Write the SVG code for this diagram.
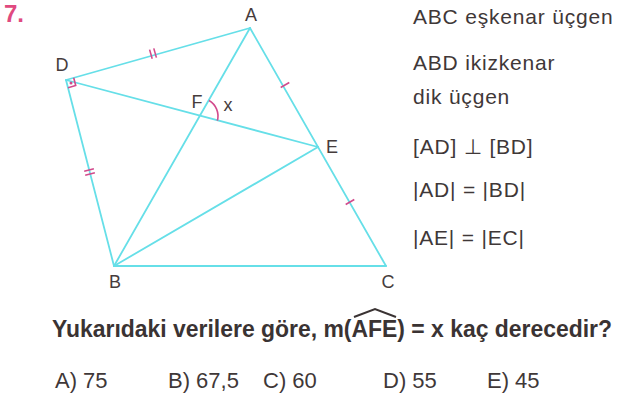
<svg xmlns="http://www.w3.org/2000/svg" width="619" height="398" viewBox="0 0 619 398">
<style>
.ln{stroke:#66dfe8;stroke-width:1.8;fill:none;stroke-linecap:round}
.tk{stroke:#d24a8c;stroke-width:1.6;fill:none}
.lbl{font-family:"Liberation Sans",Arial,sans-serif;font-size:18px;fill:#463c3c}
.side{font-family:"Liberation Sans","DejaVu Sans",Arial,sans-serif;font-size:21px;fill:#3f3838;letter-spacing:0.8px}
.q{font-family:"Liberation Sans",Arial,sans-serif;font-size:23px;font-weight:bold;fill:#3a3333}
.ans{font-family:"Liberation Sans",Arial,sans-serif;font-size:22px;fill:#3f3838}
</style>
<rect width="619" height="398" fill="#ffffff"/>
<text x="4" y="22" font-family="Liberation Sans,Arial,sans-serif" font-size="24" font-weight="bold" fill="#e04a80">7.</text>
<g id="connectors">
<line class="ln" x1="66" y1="80" x2="250" y2="28" stroke-width="1.3"/>
<line class="ln" x1="250" y1="28" x2="386" y2="266"/>
<line class="ln" x1="250" y1="28" x2="114" y2="266"/>
<line class="ln" x1="114" y1="266" x2="386" y2="266"/>
<line class="ln" x1="66" y1="80" x2="114" y2="266"/>
<line class="ln" x1="66" y1="80" x2="318" y2="147" stroke-width="2.2"/>
<line class="ln" x1="114" y1="266" x2="318" y2="147"/>
</g>
<g id="marks">
<path class="tk" d="M73.7,77.8 L75.7,85.5 L68.0,87.7"/>
<circle cx="71" cy="83" r="1.5" fill="#d24a8c"/>
<line class="tk" x1="149.6" y1="49.6" x2="152.2" y2="58.8"/>
<line class="tk" x1="153.8" y1="48.4" x2="156.4" y2="57.6"/>
<line class="tk" x1="84.2" y1="171.3" x2="93.9" y2="168.8"/>
<line class="tk" x1="85.2" y1="175.2" x2="94.9" y2="172.7"/>
<line class="tk" x1="280.7" y1="87.5" x2="289.3" y2="82.5"/>
<line class="tk" x1="345.7" y1="204.5" x2="354.3" y2="199.5"/>
<path class="tk" d="M209,100.5 A18,18 0 0 1 217.4,120.6"/>
</g>
<g id="nodeA"><text class="lbl" x="251" y="21" text-anchor="middle">A</text></g>
<g id="nodeD"><text class="lbl" x="62" y="71" text-anchor="middle">D</text></g>
<g id="nodeF"><text class="lbl" x="197" y="108" text-anchor="middle">F</text><text class="lbl" x="228" y="111" text-anchor="middle">x</text></g>
<g id="nodeE"><text class="lbl" x="332" y="153" text-anchor="middle">E</text></g>
<g id="nodeB"><text class="lbl" x="115" y="288" text-anchor="middle">B</text></g>
<g id="nodeC"><text class="lbl" x="388" y="288" text-anchor="middle">C</text></g>
<g id="given">
<text class="side" x="413" y="24">ABC eşkenar üçgen</text>
<text class="side" x="413" y="70">ABD ikizkenar</text>
<text class="side" x="413" y="104">dik üçgen</text>
<text class="side" x="413" y="154">[AD] ⊥ [BD]</text>
<text class="side" x="413" y="197">|AD| = |BD|</text>
<text class="side" x="413" y="245">|AE| = |EC|</text>
</g>
<g id="question">
<text class="q" x="52" y="337" textLength="560" lengthAdjust="spacingAndGlyphs">Yukarıdaki verilere göre, m(AFE) = x kaç derecedir?</text>
<path d="M354,317 L375,309 L396,317" stroke="#3a3333" stroke-width="2" fill="none"/>
</g>
<g id="answers">
<text class="ans" x="55" y="388">A) 75</text>
<text class="ans" x="168" y="388">B) 67,5</text>
<text class="ans" x="263" y="388">C) 60</text>
<text class="ans" x="383" y="388">D) 55</text>
<text class="ans" x="487" y="388">E) 45</text>
</g>
</svg>
